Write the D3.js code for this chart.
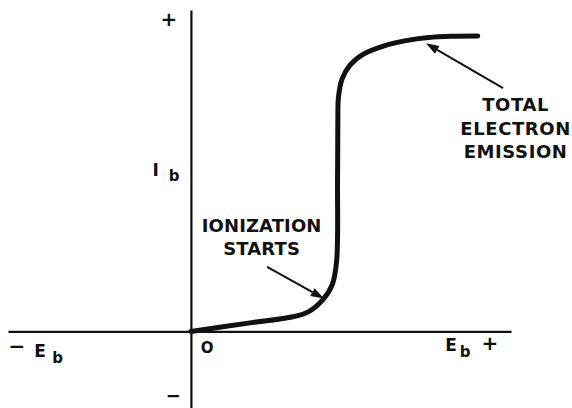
<!DOCTYPE html>
<html><head><meta charset="utf-8">
<script src="https://cdn.jsdelivr.net/npm/d3@7"></script>
<style>
html,body{margin:0;padding:0;background:#fff;}
text{font-family:"DejaVu Sans",sans-serif;font-weight:bold;fill:#111;}
</style></head>
<body><svg id="c" width="572" height="408"></svg>
<script>
// Plate voltage Eb (arbitrary units) vs plate current Ib (arbitrary units)
const curveEb = [0, 19.4, 33.5, 38.5, 43.3, 46.4, 47.8, 48.1, 48.2, 48.4, 49.6, 52.2, 56.6, 63.4, 70.5, 78, 85.5, 94.1];
const curveIb = [0, 2.8, 4.8, 6.4, 10.4, 15.4, 23, 49.5, 69, 76.5, 82.5, 87, 90.6, 93.3, 95, 96, 96.4, 96.5];
const xDomain = [-60, 105];
const yDomain = [-25, 105];
const annotations = [
  {lines: ["IONIZATION", "STARTS"], tx: 23.2, ty: 32.5, spacing: 0.1, from: [25, 21.1], to: [43.6, 10.8]},
  {lines: ["TOTAL", "ELECTRON", "EMISSION"], tx: 106.5, ty: 72, spacing: 0.6, from: [102.4, 79.5], to: [77.1, 94.1]}
];

const svg = d3.select("#c");
const x = d3.scaleLinear().domain(xDomain).range([8, 511]);
const y = d3.scaleLinear().domain(yDomain).range([408, 10]);

// axes (no ticks)
svg.append("g").attr("transform", `translate(0,${y(0)})`)
  .call(d3.axisBottom(x).tickValues([]).tickSizeOuter(0))
  .call(g => g.select(".domain").attr("stroke", "#111").attr("stroke-width", 2.2));
svg.append("g").attr("transform", `translate(${x(0)},0)`)
  .call(d3.axisLeft(y).tickValues([]).tickSizeOuter(0))
  .call(g => g.select(".domain").attr("stroke", "#111").attr("stroke-width", 2.2));

// curve
const pts = curveEb.map((e, i) => [e, curveIb[i]]);
svg.append("path")
  .attr("d", d3.line().x(d => x(d[0])).y(d => y(d[1])).curve(d3.curveCatmullRom.alpha(0.5))(pts))
  .attr("fill", "none").attr("stroke", "#111").attr("stroke-width", 5)
  .attr("stroke-linecap", "round").attr("stroke-linejoin", "round");

// arrows
annotations.forEach(a => {
  const x1 = x(a.from[0]), y1 = y(a.from[1]), x2 = x(a.to[0]), y2 = y(a.to[1]);
  const ang = Math.atan2(y2 - y1, x2 - x1);
  const L = 13, W = 4.5;
  const bx = x2 - L * Math.cos(ang), by = y2 - L * Math.sin(ang);
  svg.append("line").attr("x1", x1).attr("y1", y1).attr("x2", bx).attr("y2", by)
    .attr("stroke", "#111").attr("stroke-width", 2);
  const px = -Math.sin(ang), py = Math.cos(ang);
  svg.append("path")
    .attr("d", `M${x2},${y2} L${bx + px * W},${by + py * W} L${bx - px * W},${by - py * W} Z`)
    .attr("fill", "#111");
  const t = svg.append("text").attr("text-anchor", "middle").attr("font-size", 18)
    .attr("letter-spacing", a.spacing);
  a.lines.forEach((ln, i) => {
    t.append("tspan").attr("x", x(a.tx)).attr("y", y(a.ty) + i * 23.5).text(ln);
  });
});

// axis labels
function lbl(tx, ty, s, size, anchor) {
  svg.append("text").attr("x", tx).attr("y", ty).attr("font-size", size)
    .attr("text-anchor", anchor || "start").text(s);
}
// Ib
lbl(x(-12.6), y(50.7), "I", 17);
lbl(x(-7.3), y(49.2), "b", 15);
// top + and bottom −
lbl(x(-7.2), y(99.8), "+", 20, "middle");
lbl(x(-5.8), y(-23.2), "−", 18, "middle");
// −Eb
lbl(x(-57.1), y(-6.9), "−", 20, "middle");
lbl(x(-51.4), y(-8.3), "E", 17);
lbl(x(-45.5), y(-10.3), "b", 15);
// origin
lbl(x(3.2), y(-7.1), "O", 15);
// Eb +
lbl(x(83.4), y(-6.5), "E", 17);
lbl(x(88.2), y(-8.5), "b", 15);
lbl(x(98.1), y(-6.1), "+", 20, "middle");
</script></body></html>
